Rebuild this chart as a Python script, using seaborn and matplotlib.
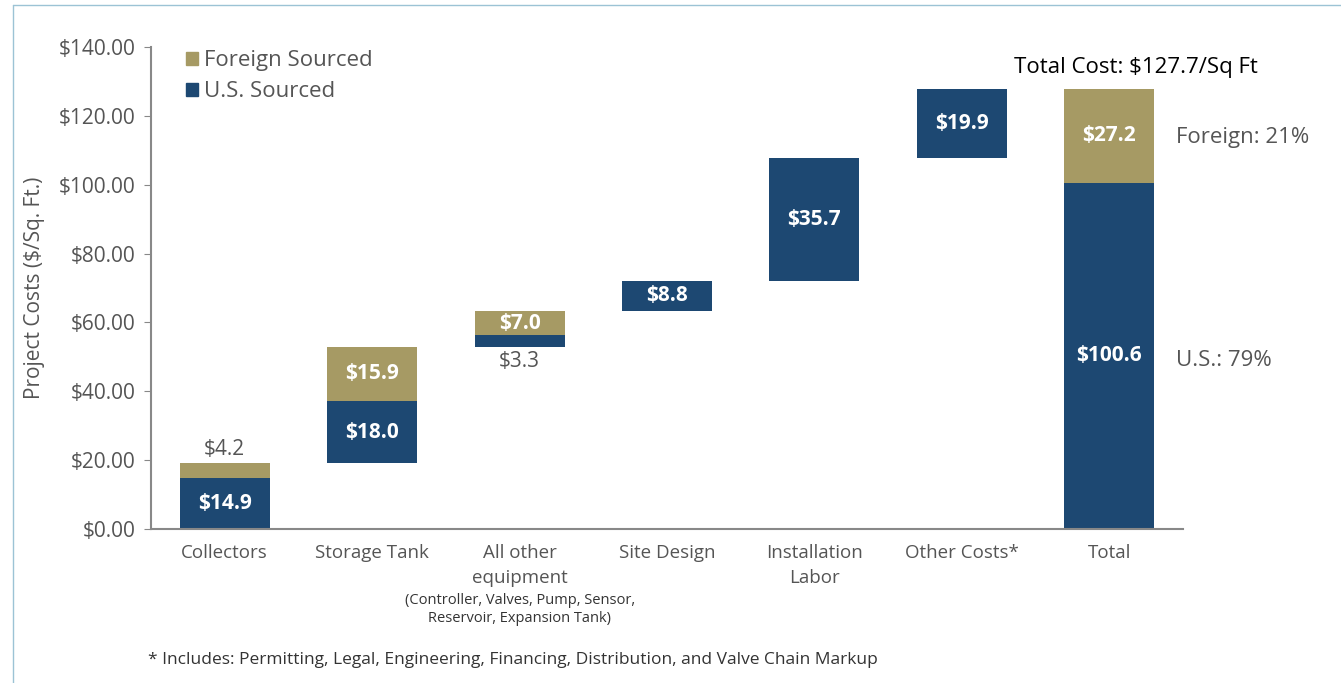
import seaborn as sns
import pandas as pd
import matplotlib.pyplot as plt
import numpy as np
from matplotlib.patches import Patch
from matplotlib.lines import Line2D

categories = ["Collectors", "Storage Tank", "All other\nequipment", "Site Design",
              "Installation\nLabor", "Other Costs*", "Total"]
us_sourced = [14.9, 18.0, 3.3, 8.8, 35.7, 19.9, 100.6]
foreign_sourced = [4.2, 15.9, 7.0, 0.0, 0.0, 0.0, 27.2]
us_labels = ["$14.9", "$18.0", "$3.3", "$8.8", "$35.7", "$19.9", "$100.6"]
foreign_labels = ["$4.2", "$15.9", "$7.0", "", "", "", "$27.2"]
yticks = [0, 20, 40, 60, 80, 100, 120, 140]

NAVY = "#1d4872"
GOLD = "#a69a64"
GREY = "#555555"

sns.set_style("white")
plt.rcParams["font.family"] = ["Open Sans", "DejaVu Sans"]

# waterfall: each step starts where the previous one ended, total starts at 0
steps = np.array(us_sourced) + np.array(foreign_sourced)
start = np.concatenate([[0], np.cumsum(steps[:-2]), [0]])

df = pd.DataFrame({"cat": categories, "us": us_sourced, "foreign": foreign_sourced,
                   "start": start})
df["us_top"] = df["start"] + df["us"]

fig = plt.figure(figsize=(13.41, 6.83), dpi=100)
ax = fig.add_axes([151 / 1341, 1 - 529 / 683, (1183 - 151) / 1341, (529 - 47) / 683])

sns.barplot(data=df, x="cat", y="us", bottom=df["start"].values, color=NAVY,
            width=0.61, errorbar=None, ax=ax, order=categories, saturation=1,
            linewidth=0)
sns.barplot(data=df, x="cat", y="foreign", bottom=df["us_top"].values, color=GOLD,
            width=0.61, errorbar=None, ax=ax, order=categories, saturation=1,
            linewidth=0)

# value labels
for i in range(len(categories)):
    s, u, f = df["start"][i], df["us"][i], df["foreign"][i]
    if i == 2:
        ax.text(i, s - 1.2, us_labels[i], ha="center", va="top", color=GREY, fontsize=15)
    else:
        ax.text(i, s + u / 2, us_labels[i], ha="center", va="center", color="white",
                fontsize=15, fontweight="bold")
    if f > 0:
        if i == 0:
            ax.text(i, s + u + f + 1.0, foreign_labels[i], ha="center", va="bottom",
                    color=GREY, fontsize=15)
        else:
            ax.text(i, s + u + f / 2, foreign_labels[i], ha="center", va="center",
                    color="white", fontsize=15, fontweight="bold")

ax.set_xlim(-0.5, 6.5)
ax.set_ylim(0, 140)
ax.set_yticks(yticks)
ax.set_yticklabels([f"${v:.2f}" for v in yticks], fontsize=15, color=GREY)
ax.set_xticks(range(len(categories)))
ax.set_xticklabels(categories, fontsize=13.5, color=GREY, linespacing=1.45)
ax.set_xticks(np.arange(-0.5, 7, 1), minor=True)
ax.tick_params(axis="x", which="major", length=0, pad=11)
ax.tick_params(axis="x", which="minor", length=5, color="#888888", direction="out")
ax.tick_params(axis="y", length=5, color="#888888", direction="out", pad=6, left=True)
ax.set_xlabel("")
ax.set_ylabel("Project Costs ($/Sq. Ft.)", fontsize=15, color=GREY, labelpad=10)
sns.despine(ax=ax)
for sp in ["left", "bottom"]:
    ax.spines[sp].set_color("#888888")
    ax.spines[sp].set_linewidth(1.5)

ax.text(2, -18.5, "(Controller, Valves, Pump, Sensor,\nReservoir, Expansion Tank)",
        ha="center", va="top", fontsize=10.5, color="#333333", linespacing=1.3)

handles = [Patch(color=GOLD), Patch(color=NAVY)]
ax.legend(handles, ["Foreign Sourced", "U.S. Sourced"], loc="upper left",
          bbox_to_anchor=(0.015, 1.035), frameon=False, fontsize=16,
          handlelength=0.5, handleheight=0.5, handletextpad=0.3,
          labelspacing=0.45, labelcolor=GREY)

ax.text(6.18, 131, "Total Cost: $127.7/Sq Ft", ha="center", va="bottom", fontsize=16,
        color="black")
ax.text(6.45, 113.8, "Foreign: 21%", ha="left", va="center", fontsize=16, color=GREY)
ax.text(6.45, 49, "U.S.: 79%", ha="left", va="center", fontsize=16, color=GREY)

fig.text(148 / 1341, 1 - 660 / 683,
         "* Includes: Permitting, Legal, Engineering, Financing, Distribution, and Valve Chain Markup",
         ha="left", va="center", fontsize=12.5, color="#333333")

# thin frame lines at top and left of the picture
fig.add_artist(Line2D([13 / 1341, 1], [1 - 5 / 683, 1 - 5 / 683], color="#9cc3d5", lw=1))
fig.add_artist(Line2D([13 / 1341, 13 / 1341], [0, 1 - 5 / 683], color="#9cc3d5", lw=1))

fig.savefig("out.png", dpi=100)
